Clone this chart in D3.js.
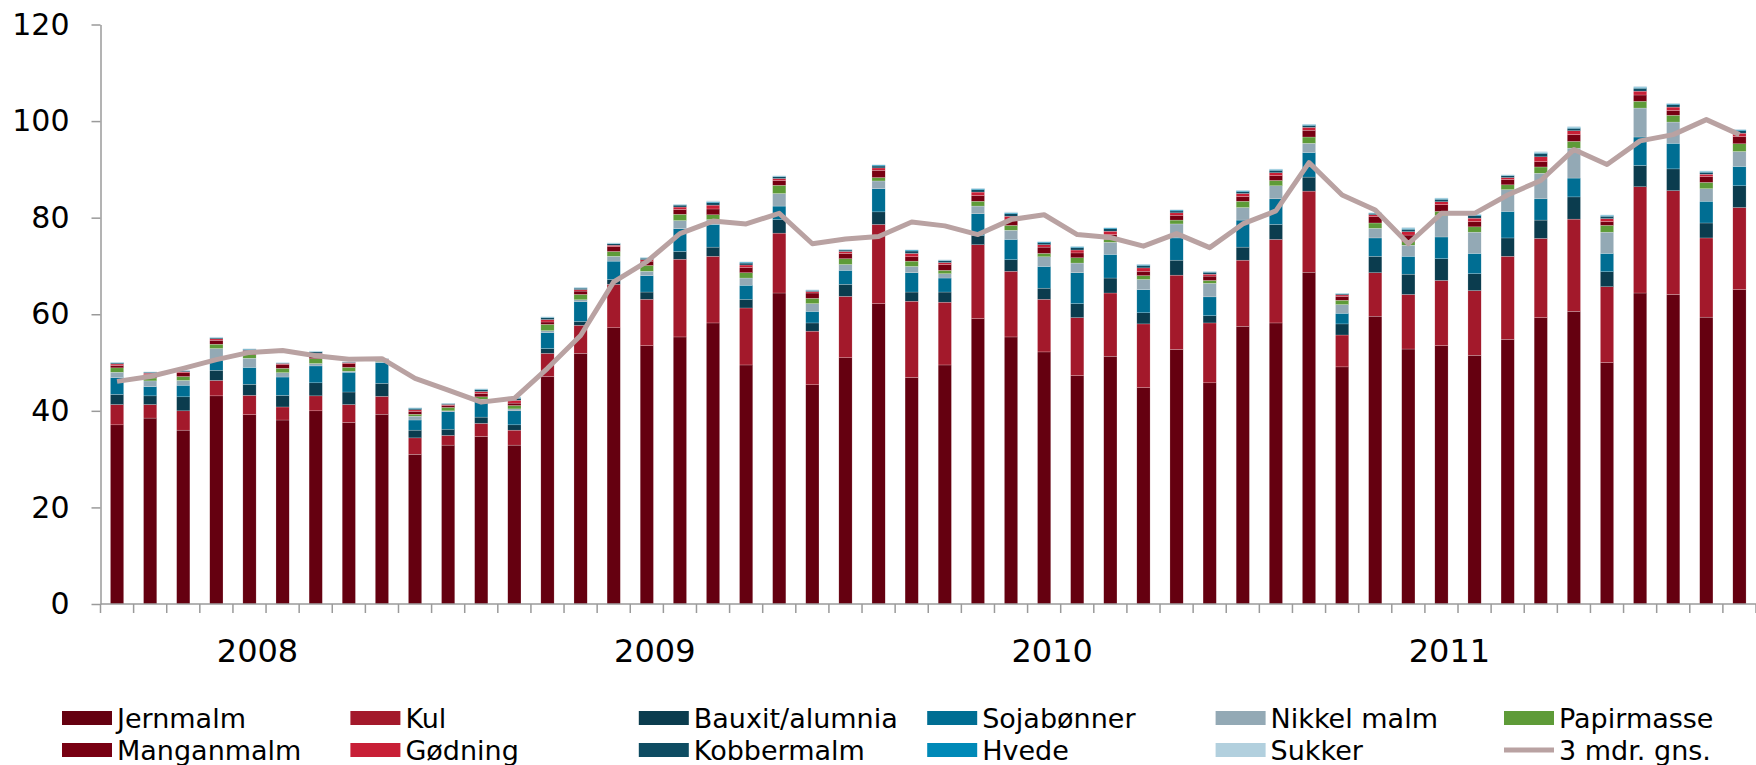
<!DOCTYPE html>
<html>
<head>
<meta charset="utf-8">
<script src="https://cdn.jsdelivr.net/npm/d3@7/dist/d3.min.js"></script>
<style>
  body { margin: 0; background: #fff; }
  text { font-family: "DejaVu Sans", Verdana, sans-serif; fill: #000; }
</style>
</head>
<body>
<div id="svg-container"></div>
<script>
/** Months on the category axis (sep 2007 - okt 2011) */
const months = [
  "2007-09","2007-10","2007-11","2007-12",
  "2008-01","2008-02","2008-03","2008-04","2008-05","2008-06","2008-07","2008-08","2008-09","2008-10","2008-11","2008-12",
  "2009-01","2009-02","2009-03","2009-04","2009-05","2009-06","2009-07","2009-08","2009-09","2009-10","2009-11","2009-12",
  "2010-01","2010-02","2010-03","2010-04","2010-05","2010-06","2010-07","2010-08","2010-09","2010-10","2010-11","2010-12",
  "2011-01","2011-02","2011-03","2011-04","2011-05","2011-06","2011-07","2011-08","2011-09","2011-10"
];

/** Year labels and the month they sit under */
const yearLabelMonths = ["2008-01", "2009-01", "2010-01", "2011-01"];
const yearLabels = ["2008", "2009", "2010", "2011"];

const yTicks = [0, 20, 40, 60, 80, 100, 120];

/** Series values */
const jernmalm = [37.1,38.5,36.0,43.1,39.2,38.1,40.0,37.6,39.3,31.0, 32.9,34.7,32.9,47.1,51.9,57.2,53.5,55.3,58.2,49.5, 64.4,45.4,51.0,62.2,46.9,49.5,59.1,55.3,52.2,47.3, 51.3,44.8,52.7,45.8,57.5,58.2,68.7,49.1,59.6,52.8, 53.5,51.5,54.8,59.3,60.6,50.0,64.4,64.1,59.4,65.1];
const kul = [4.2,2.8,4.0,3.2,4.0,2.7,3.1,3.7,3.7,3.4, 2.0,2.7,3.1,4.8,5.8,9.0,9.6,16.1,13.8,11.8, 12.4,11.1,12.7,16.4,15.8,13.0,15.3,13.6,10.9,12.0, 13.1,13.2,15.4,12.4,13.7,17.3,16.8,6.6,9.0,11.3, 13.5,13.4,17.2,16.4,19.1,15.7,22.0,21.5,16.4,17.0];
const bauxit = [2.1,1.8,2.9,2.1,2.3,2.4,2.7,2.6,2.7,1.6, 1.3,1.3,1.1,1.0,0.8,1.0,1.5,1.6,1.9,1.8, 2.8,1.7,2.5,2.6,1.9,2.1,1.9,2.4,2.3,2.9, 3.1,2.3,3.1,1.5,2.7,3.1,2.9,2.3,3.4,4.2, 4.5,3.5,3.8,3.8,4.6,3.1,4.4,4.5,3.1,4.5];
const soja = [3.5,1.9,2.4,2.1,3.5,3.8,3.5,4.1,4.3,2.1, 3.6,3.3,2.9,3.3,4.1,3.8,3.4,4.7,4.7,2.9, 2.8,2.4,2.9,4.8,4.0,2.9,4.5,4.2,4.5,6.4, 4.9,4.8,4.6,3.9,5.6,5.3,5.1,2.2,3.8,3.7, 4.5,4.2,5.5,4.4,3.9,3.8,5.9,5.3,4.5,4.0];
const nikkel = [1.1,1.2,1.0,2.4,1.9,0.9,0.5,0.2,0.2,0.8, 0.2,0.4,0.4,0.4,0.4,1.0,0.9,1.7,1.0,1.5, 2.6,1.6,1.2,1.6,1.3,0.9,1.6,1.9,2.0,2.0, 2.5,2.1,2.9,2.8,2.6,2.7,1.9,1.8,2.0,2.3, 4.4,4.4,4.5,5.3,6.2,4.4,6.0,4.4,2.6,3.1];
const papirmasse = [0.9,0.6,0.8,0.9,0.7,0.9,1.0,0.8,0.2,0.4, 0.7,0.5,0.7,1.3,1.1,1.0,1.2,1.3,1.0,1.1, 1.7,1.1,1.2,0.7,1.1,0.7,1.0,1.0,0.7,1.1, 0.6,0.8,0.8,0.6,1.3,1.1,1.3,0.9,1.1,0.7, 0.9,1.1,1.0,1.3,1.4,1.4,1.4,1.4,1.3,1.6];
const manganmalm = [0.5,0.7,0.8,0.8,0.6,0.8,0.7,0.8,0.2,0.6, 0.4,0.7,0.5,0.5,0.7,1.0,0.9,1.0,1.2,1.1, 1.0,1.1,1.1,1.5,0.9,1.2,1.2,1.1,1.3,1.0, 1.0,0.9,1.0,0.9,1.0,1.0,1.4,0.8,1.3,1.4, 1.4,1.1,1.1,1.1,1.4,0.8,1.3,1.0,1.2,1.5];
const godning = [0.3,0.3,0.2,0.3,0.3,0.2,0.4,0.2,0.1,0.3, 0.2,0.4,0.6,0.5,0.3,0.3,0.3,0.5,0.8,0.5, 0.4,0.3,0.4,0.5,0.7,0.4,0.7,0.8,0.5,0.6, 0.7,0.7,0.5,0.4,0.6,0.6,0.6,0.3,0.4,0.7, 0.6,0.7,0.4,1.0,0.8,0.6,0.8,0.7,0.5,0.7];
const kobbermalm = [0.2,0.2,0.2,0.2,0.2,0.1,0.3,0.1,0.1,0.3, 0.2,0.4,0.4,0.4,0.3,0.3,0.3,0.4,0.5,0.4, 0.4,0.2,0.3,0.4,0.5,0.4,0.5,0.5,0.4,0.5, 0.5,0.5,0.4,0.4,0.4,0.5,0.4,0.2,0.3,0.5, 0.5,0.5,0.4,0.7,0.5,0.5,0.6,0.5,0.4,0.5];
const hvede = [0.1,0.05,0.05,0.1,0.1,0.05,0.1,0.05,0.0,0.1, 0.05,0.1,0.2,0.1,0.1,0.1,0.1,0.1,0.2,0.2, 0.1,0.1,0.1,0.2,0.2,0.1,0.2,0.2,0.2,0.2, 0.2,0.2,0.2,0.1,0.2,0.2,0.2,0.1,0.1,0.2, 0.2,0.2,0.1,0.2,0.2,0.2,0.2,0.2,0.2,0.2];
const sukker = [0.1,0.05,0.05,0.1,0.1,0.05,0.1,0.05,0.05,0.1, 0.05,0.1,0.1,0.1,0.1,0.1,0.1,0.1,0.2,0.1, 0.1,0.1,0.1,0.1,0.1,0.1,0.1,0.2,0.1,0.1, 0.1,0.1,0.1,0.1,0.1,0.1,0.1,0.1,0.1,0.2, 0.1,0.2,0.1,0.2,0.2,0.1,0.2,0.1,0.1,0.1];

/** 3 mdr. gns. line */
const gns3 = [46.1,47.1,48.8,50.6,52.1,52.5,51.4,50.7,50.8,46.7, 44.3,41.8,42.6,48.8,55.6,66.7,70.9,76.7,79.3,78.7, 80.9,74.6,75.6,76.1,79.1,78.3,76.5,79.6,80.6,76.5, 75.9,74.1,76.7,73.8,78.7,81.4,91.4,84.7,81.6,74.6, 80.9,80.9,84.7,87.7,94.1,91.0,95.9,97.2,100.3,97.2];

/** Series in stacking order (bottom first) */
const series = [
  {key: "Jernmalm", values: jernmalm, color: "#650010"},
  {key: "Kul", values: kul, color: "#A3192B"},
  {key: "Bauxit/alumnia", values: bauxit, color: "#0B3C4E"},
  {key: "Sojabønner", values: soja, color: "#006E93"},
  {key: "Nikkel malm", values: nikkel, color: "#93A9B5"},
  {key: "Papirmasse", values: papirmasse, color: "#5E9B38"},
  {key: "Manganmalm", values: manganmalm, color: "#780012"},
  {key: "Gødning", values: godning, color: "#C81F36"},
  {key: "Kobbermalm", values: kobbermalm, color: "#0E4C62"},
  {key: "Hvede", values: hvede, color: "#0089B7"},
  {key: "Sukker", values: sukker, color: "#B2D0DE"}
];
const lineColor = "#B9A2A2";

drawSvg();

function drawSvg() {
  const w = 1756;
  const h = 765;

  const svg = d3.select("div#svg-container")
    .append("svg")
    .attr("width", w)
    .attr("height", h);

  /** Scales */
  const xScale = d3.scaleBand()
    .domain(months)
    .range([100.5, 1756])
    .paddingInner(0.6)
    .paddingOuter(0.3);
  const yScale = d3.scaleLinear()
    .domain([0, 120])
    .range([604, 24.5]);

  /** Stack the data */
  const rows = months.map((m, i) => {
    const row = {month: m};
    series.forEach(s => row[s.key] = s.values[i]);
    return row;
  });
  const stacked = d3.stack().keys(series.map(s => s.key))(rows);

  const bars = svg.append("g").attr("id", "bars");
  bars.selectAll("g")
    .data(stacked)
    .enter()
    .append("g")
    .attr("fill", (d, i) => series[i].color)
    .selectAll("rect")
    .data(d => d)
    .enter()
    .append("rect")
    .attr("x", d => xScale(d.data.month))
    .attr("width", xScale.bandwidth())
    .attr("y", d => yScale(d[1]))
    .attr("height", d => Math.max(0, yScale(d[0]) - yScale(d[1])))
    .attr("stroke", "#fff")
    .attr("stroke-width", 0.4)
    .attr("stroke-opacity", 0.5);

  /** y axis */
  const yAxis = svg.append("g")
    .attr("id", "y-axis")
    .attr("transform", "translate(100.5,0)")
    .call(d3.axisLeft(yScale).tickValues(yTicks).tickSize(9).tickSizeOuter(0).tickPadding(22));
  yAxis.select(".domain").attr("stroke", "#9a9a9a").attr("stroke-width", 1.5);
  yAxis.selectAll(".tick line").attr("stroke", "#9a9a9a").attr("stroke-width", 1.5);
  yAxis.selectAll(".tick text")
    .style("font-size", "30px")
    .style("font-family", "'DejaVu Sans', Verdana, sans-serif")
    .attr("fill", "#000");

  /** x axis: baseline and ticks between categories */
  const x0 = xScale.range()[0];
  const step = xScale.step();
  const xAxis = svg.append("g").attr("id", "x-axis");
  xAxis.append("line")
    .attr("x1", x0).attr("x2", xScale.range()[1])
    .attr("y1", yScale(0)).attr("y2", yScale(0))
    .attr("stroke", "#9a9a9a").attr("stroke-width", 1.5);
  xAxis.selectAll("line.tick")
    .data(d3.range(months.length + 1))
    .enter()
    .append("line")
    .attr("class", "tick")
    .attr("x1", i => x0 + i * step).attr("x2", i => x0 + i * step)
    .attr("y1", yScale(0)).attr("y2", yScale(0) + 9)
    .attr("stroke", "#9a9a9a").attr("stroke-width", 1.5);
  xAxis.selectAll("text")
    .data(yearLabelMonths)
    .enter()
    .append("text")
    .attr("x", (m) => xScale(m) + xScale.bandwidth() / 2 + 8)
    .attr("y", 662)
    .style("text-anchor", "middle")
    .style("font-size", "32px")
    .text((m, i) => yearLabels[i]);

  /** 3 mdr. gns. line */
  const line = d3.line()
    .x((d, i) => xScale(months[i]) + xScale.bandwidth() / 2)
    .y(d => yScale(d));
  svg.append("path")
    .datum(gns3)
    .attr("d", line)
    .attr("fill", "none")
    .attr("stroke", lineColor)
    .attr("stroke-width", 5)
    .attr("stroke-linejoin", "round");

  /** Legend: 6 columns, 2 rows */
  const legendItems = series.map(s => ({key: s.key, color: s.color, type: "rect"}))
    .concat([{key: "3 mdr. gns.", color: lineColor, type: "line"}]);
  const legend = svg.append("g").attr("id", "legend");
  const item = legend.selectAll("g")
    .data(legendItems)
    .enter()
    .append("g")
    .attr("transform", (d, i) => "translate(" + (62 + (i % 6) * 288.4) + "," + (i < 6 ? 718 : 750) + ")");
  item.filter(d => d.type === "rect")
    .append("rect")
    .attr("x", 0).attr("y", -7)
    .attr("width", 50).attr("height", 14)
    .attr("fill", d => d.color);
  item.filter(d => d.type === "line")
    .append("line")
    .attr("x1", 0).attr("x2", 50)
    .attr("y1", 0).attr("y2", 0)
    .attr("stroke", d => d.color)
    .attr("stroke-width", 5);
  item.append("text")
    .attr("x", 55)
    .attr("y", 10)
    .style("font-size", "27px")
    .text(d => d.key);
}
</script>
</body>
</html>
